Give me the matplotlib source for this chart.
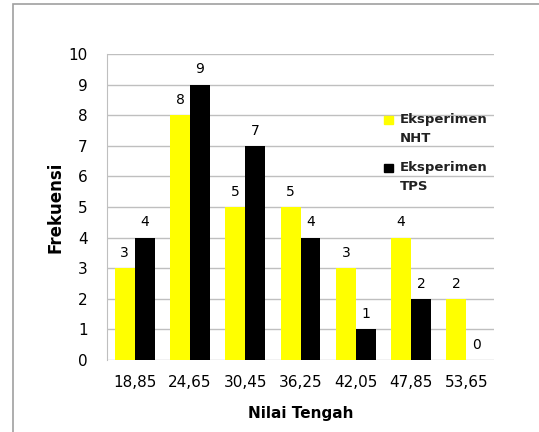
import numpy as np
import matplotlib.pyplot as plt
from matplotlib.patches import Rectangle

kategori = ["18,85", "24,65", "30,45", "36,25", "42,05", "47,85", "53,65"]
nht = [3, 8, 5, 5, 3, 4, 2]
tps = [4, 9, 7, 4, 1, 2, 0]
series = [("Eksperimen", "NHT", '#FFFF00'), ("Eksperimen", "TPS", '#000000')]

fig = plt.figure(figsize=(5.39, 4.32), dpi=100)
ax = fig.add_axes([107/539, 1-360/432, 387/539, 306/432])

x = np.arange(len(kategori))
w = 0.36
b1 = ax.bar(x - w/2, nht, w, color=series[0][2], zorder=3)
b2 = ax.bar(x + w/2, tps, w, color=series[1][2], zorder=3)

for bars, vals in [(b1, nht), (b2, tps)]:
  for r, v in zip(bars, vals):
    ax.annotate(str(v), (r.get_x() + r.get_width()/2, v), xytext=(0, 11),
                textcoords='offset points', ha='center', va='center', fontsize=10)

ax.set_xlim(-0.5, 6.5)
ax.set_ylim(0, 10)
ax.set_yticks(range(0, 11))
ax.set_xticks(x)
ax.set_xticklabels(kategori)
ax.tick_params(length=0, labelsize=11)
ax.tick_params(axis='y', pad=14)
ax.tick_params(axis='x', pad=11)
ax.grid(axis='y', color='#bfbfbf', linewidth=1, zorder=0)
for s in ['top', 'right', 'bottom']:
  ax.spines[s].set_visible(False)
ax.spines['left'].set_color('#bfbfbf')
ax.set_xlabel("Nilai Tengah", fontsize=11, fontweight='bold', labelpad=11)
ax.set_ylabel("Frekuensi", fontsize=12, fontweight='bold', labelpad=3)

# leyenda manual (cuadro alineado con la primera línea)
y0 = 120
for i, (l1, l2, c) in enumerate(series):
  yy = y0 + i * 48
  fig.patches.append(Rectangle((384/539, 1-(yy+4)/432), 9/539, 8/432,
                               transform=fig.transFigure, color=c))
  fig.text(400/539, 1-yy/432, l1, fontsize=9.5, fontweight='bold',
           color='#222222', va='center', ha='left')
  fig.text(400/539, 1-(yy+19)/432, l2, fontsize=9.5, fontweight='bold',
           color='#222222', va='center', ha='left')

# marco gris del gráfico
fig.patches.append(Rectangle((13/539, -0.5), 1.5, 0.5 + 1 - 4/432,
                             transform=fig.transFigure, fill=False,
                             edgecolor='#a0a0a0', linewidth=1.2))

fig.savefig("out.png", dpi=100)
